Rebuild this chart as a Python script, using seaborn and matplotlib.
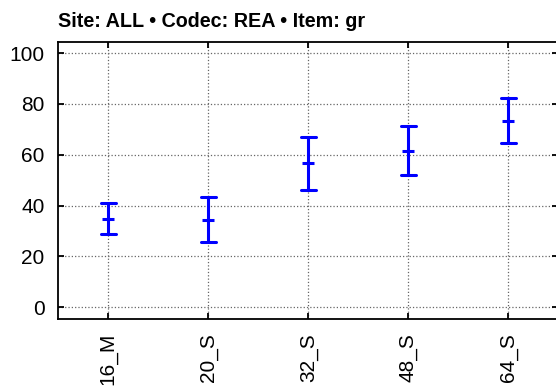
import matplotlib
matplotlib.use('Agg')
import matplotlib.pyplot as plt
import seaborn as sns
import pandas as pd


### DATA ###

conditions = ['16_M', '20_S', '32_S', '48_S', '64_S']
means = [34.7, 34.3, 56.6, 61.6, 73.4]
lower = [28.7, 25.5, 46.1, 52.0, 64.7]
upper = [40.9, 43.3, 67.0, 71.2, 82.2]

title_text = 'Site: ALL \u2022 Codec: REA \u2022 Item: gr'


### INTERVAL PLOT ###

# three rows per condition: median = mean, full range = interval
plot_df = pd.DataFrame({
    'condition': conditions * 3,
    'score': lower + means + upper
})

sns.set_style('ticks')
plt.rcParams['font.family'] = ['Liberation Sans', 'DejaVu Sans']
plt.rcParams['text.color'] = 'black'

fig = plt.figure(figsize=(5.56, 3.89), dpi=100)
ax = fig.add_axes([58.3 / 556, 70 / 389, 500 / 556, 276.7 / 389])

sns.pointplot(
    data=plot_df,
    x='condition',
    y='score',
    order=conditions,
    estimator='median',
    errorbar=('pi', 100),
    color='#0000ff',
    linestyle='none',
    marker='_',
    markersize=8,
    markeredgewidth=2.2,
    capsize=0.155,
    err_kws={'linewidth': 2.2},
    ax=ax
)

ax.set_xlim(-0.5, 4.5)
ax.set_ylim(-4.7, 104.3)
ax.set_yticks([0, 20, 40, 60, 80, 100])

ax.grid(True, linestyle=':', color='0.4', linewidth=0.9)
ax.set_axisbelow(True)

for spine in ax.spines.values():
    spine.set_visible(True)
    spine.set_color('black')
    spine.set_linewidth(1.3)

ax.tick_params(
    direction='in',
    length=4,
    width=1.3,
    top=True,
    right=True,
    labelsize=15,
    pad=10,
    colors='black'
)

plt.setp(ax.get_xticklabels(), rotation=90)

ax.set_xlabel('')
ax.set_ylabel('')

ax.set_title(
    title_text,
    loc='left',
    pad=11,
    fontsize=14.2,
    fontweight='bold',
    color='black'
)

fig.savefig('out.png', dpi=100)
